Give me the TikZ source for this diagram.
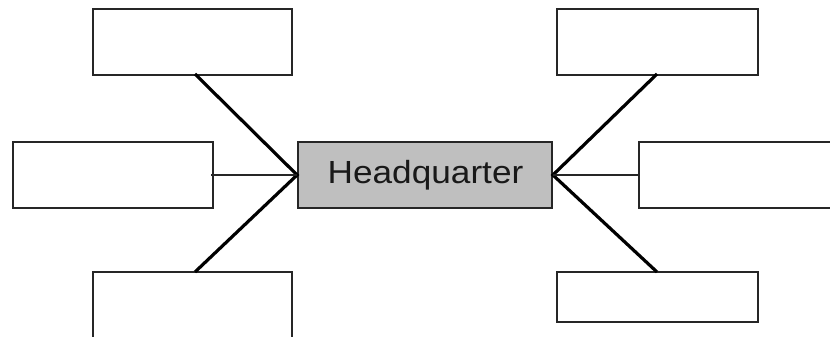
\documentclass[tikz,border=0pt]{standalone}
\usepackage{fontspec}
\setmainfont{Liberation Sans}
\begin{document}
\begin{tikzpicture}[x=1pt,y=-1pt,
  box/.style={draw=black!85,line width=1.8pt,fill=white,inner sep=0pt},
  hq/.style={draw=black!85,line width=1.8pt,fill=black!25,inner sep=0pt},
  spoke/.style={line width=3.2pt,black},
  thinspoke/.style={line width=1.2pt,black!85}]
\useasboundingbox (0,0) rectangle (830,337);
\clip (0,0) rectangle (830,337);
% boxes
\draw[box] (93,9) rectangle (292,75);
\draw[box] (13,142) rectangle (213,208);
\draw[box] (93,272) rectangle (292,360);
\draw[box] (557,9) rectangle (758,75);
\draw[box] (639,142) rectangle (860,208);
\draw[box] (557,272) rectangle (758,322);
\coordinate (tl) at (195,74);
\coordinate (ml) at (211,175);
\coordinate (bl) at (195,272);
\coordinate (tr) at (657,74);
\coordinate (mr) at (639,175);
\coordinate (br) at (657,272);
\node[hq,minimum width=254pt,minimum height=66pt] (h) at (425,175) {};
\node[xscale=1.1,font=\fontsize{32}{38}\selectfont,text=black!90] (t) at (425.5,175) {Headquarter};
\coordinate (hl) at (h.west);
\coordinate (hr) at (h.east);
\draw[spoke] (tl) -- (hl) -- (bl);
\draw[thinspoke] (ml) -- (hl);
\draw[spoke] (tr) -- (hr) -- (br);
\draw[thinspoke] (mr) -- (hr);
\end{tikzpicture}
\end{document}
